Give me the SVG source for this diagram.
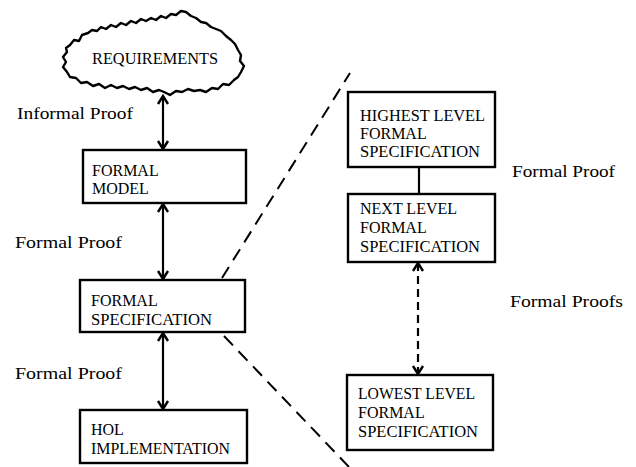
<svg xmlns="http://www.w3.org/2000/svg" width="636" height="467" viewBox="0 0 636 467">
  <style>
    .box { fill: #fff; stroke: #000; stroke-width: 2.4; }
    .lbl { font-family: "Liberation Serif", "DejaVu Serif", serif; font-size: 16px; fill: #000; }
    .link { stroke: #000; stroke-width: 2.2; fill: none; }
    .dash { stroke-dasharray: 8 5; }
    .cut { stroke: #000; stroke-width: 2; fill: none; stroke-dasharray: 13 8; }
  </style>
  <defs>
    <marker id="head" viewBox="-10 -7 12 14" refX="0" refY="0" markerWidth="12" markerHeight="14" markerUnits="userSpaceOnUse" orient="auto-start-reverse">
      <path d="M -8,-5 L 0,0 L -8,5" fill="none" stroke="#000" stroke-width="2.4" stroke-linejoin="miter"/>
    </marker>
  </defs>
  <rect width="636" height="467" fill="#fff"/>

  <!-- connectors -->
  <g id="connectors">
    <line class="link" x1="163" y1="96" x2="163" y2="149" marker-start="url(#head)" marker-end="url(#head)"/>
    <line class="link" x1="163" y1="204" x2="163" y2="279" marker-start="url(#head)" marker-end="url(#head)"/>
    <line class="link" x1="163" y1="333" x2="163" y2="409" marker-start="url(#head)" marker-end="url(#head)"/>
    <line class="link" x1="419" y1="167" x2="419" y2="194"/>
    <line class="link dash" x1="418" y1="263" x2="418" y2="374" marker-start="url(#head)" marker-end="url(#head)"/>
    <!-- expansion lines from the formal specification to the level stack -->
    <line class="cut" x1="222" y1="278" x2="350" y2="73"/>
    <line class="cut" x1="224" y1="336" x2="349" y2="467"/>
  </g>

  <g id="requirements">
    <path class="box" stroke-linejoin="round" d="M66,48 L70,45 L74,40 L79,41 L82,35 L88,33 L92,30 L97,31 L101,27 L106,29 L111,25 L116,27 L121,23 L126,25 L131,21 L136,23 L141,19 L146,21 L151,18 L156,20 L161,16 L166,18 L171,14 L176,15 L181,11 L186,12 L191,16 L196,18 L201,22 L206,23 L211,27 L216,29 L221,31 L226,36 L231,40 L235,44 L238,50 L241,55 L240,61 L244,66 L241,72 L238,77 L234,80 L229,85 L223,84 L218,89 L212,88 L206,92 L200,90 L194,91 L188,89 L182,92 L176,91 L170,95 L164,92 L159,90 L153,92 L147,88 L141,90 L135,87 L129,89 L123,86 L117,88 L111,85 L105,88 L99,84 L93,86 L87,82 L81,83 L76,78 L70,77 L67,72 L63,67 L66,62 L63,57 L67,52 Z"/>
    <text class="lbl" x="92" y="64" textLength="126" lengthAdjust="spacingAndGlyphs">REQUIREMENTS</text>
  </g>

  <g id="formal-model">
    <rect class="box" x="83" y="150" width="163" height="53"/>
    <text class="lbl" x="92" y="176">FORMAL</text>
    <text class="lbl" x="92" y="194">MODEL</text>
  </g>

  <g id="formal-specification">
    <rect class="box" x="80" y="280" width="165" height="52"/>
    <text class="lbl" x="91" y="306">FORMAL</text>
    <text class="lbl" x="91" y="325" textLength="121" lengthAdjust="spacingAndGlyphs">SPECIFICATION</text>
  </g>

  <g id="hol-implementation">
    <rect class="box" x="80" y="410" width="167" height="53"/>
    <text class="lbl" x="91" y="435">HOL</text>
    <text class="lbl" x="91" y="454" textLength="139" lengthAdjust="spacingAndGlyphs">IMPLEMENTATION</text>
  </g>

  <g id="highest-level">
    <rect class="box" x="348" y="92" width="147" height="75"/>
    <text class="lbl" x="360" y="121" textLength="125" lengthAdjust="spacingAndGlyphs">HIGHEST LEVEL</text>
    <text class="lbl" x="360" y="139">FORMAL</text>
    <text class="lbl" x="360" y="157" textLength="120" lengthAdjust="spacingAndGlyphs">SPECIFICATION</text>
  </g>

  <g id="next-level">
    <rect class="box" x="348" y="194" width="147" height="68"/>
    <text class="lbl" x="360" y="214">NEXT LEVEL</text>
    <text class="lbl" x="360" y="233">FORMAL</text>
    <text class="lbl" x="360" y="252" textLength="120" lengthAdjust="spacingAndGlyphs">SPECIFICATION</text>
  </g>

  <g id="lowest-level">
    <rect class="box" x="347" y="375" width="146" height="75"/>
    <text class="lbl" x="358" y="399" textLength="117" lengthAdjust="spacingAndGlyphs">LOWEST LEVEL</text>
    <text class="lbl" x="358" y="418">FORMAL</text>
    <text class="lbl" x="358" y="437" textLength="120" lengthAdjust="spacingAndGlyphs">SPECIFICATION</text>
  </g>

  <g id="labels">
    <text class="lbl" x="17" y="119" textLength="116" lengthAdjust="spacingAndGlyphs">Informal Proof</text>
    <text class="lbl" x="15" y="248" textLength="107" lengthAdjust="spacingAndGlyphs">Formal Proof</text>
    <text class="lbl" x="15" y="379" textLength="107" lengthAdjust="spacingAndGlyphs">Formal Proof</text>
    <text class="lbl" x="512" y="177" textLength="103" lengthAdjust="spacingAndGlyphs">Formal Proof</text>
    <text class="lbl" x="510" y="307" textLength="113" lengthAdjust="spacingAndGlyphs">Formal Proofs</text>
  </g>
</svg>
